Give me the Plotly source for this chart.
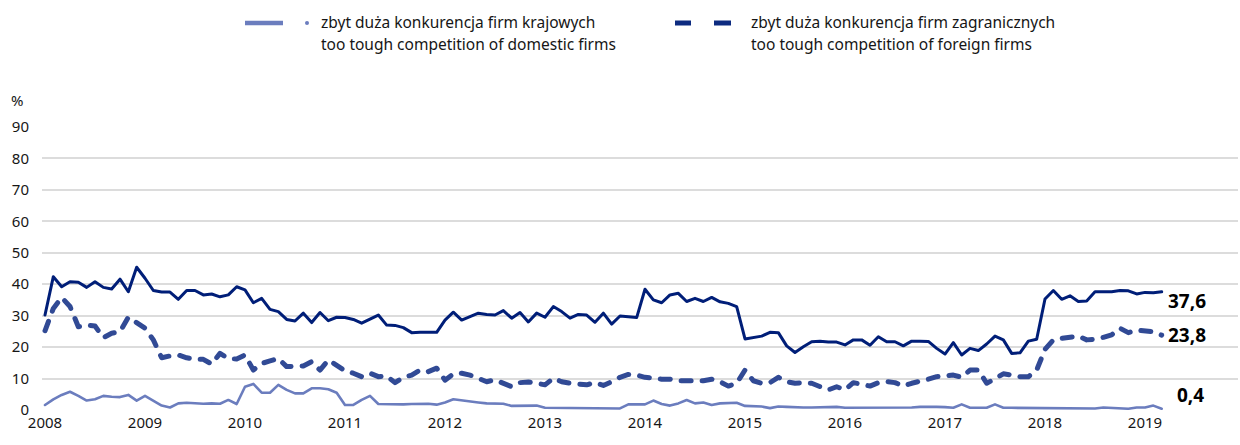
import plotly.graph_objects as go

# Monthly observations, January 2008 - March 2019
start_year = 2008
n_months = 135

# solid navy series
overall = [
    30.2, 42.4, 39.2, 40.8, 40.6, 39.0, 40.8, 39.0, 38.5, 41.6, 37.6, 45.4,
    41.9, 38.0, 37.5, 37.5, 35.2, 38.0, 38.0, 36.6, 36.9, 36.0, 36.6, 39.2,
    38.2, 34.1, 35.5, 32.0, 31.3, 28.8, 28.3, 30.8, 27.8, 31.0, 28.4, 29.5,
    29.4, 28.8, 27.6, 29.0, 30.2, 27.0, 26.9, 26.2, 24.6, 24.7, 24.8, 24.7,
    28.6, 31.1, 28.6, 29.7, 30.8, 30.4, 30.2, 31.6, 29.2, 31.0, 28.0, 30.8,
    29.5, 32.9, 31.3, 29.2, 30.4, 30.2, 27.9, 30.8, 27.3, 29.9, 29.7, 29.4,
    38.4, 35.0, 34.1, 36.6, 37.1, 34.5, 35.5, 34.5, 35.8, 34.4, 33.9, 32.9,
    22.6, 23.0, 23.5, 24.7, 24.6, 20.4, 18.3, 20.1, 21.7, 21.9, 21.6, 21.6,
    20.7, 22.3, 22.3, 20.6, 23.3, 21.7, 21.7, 20.4, 21.9, 21.9, 21.8, 19.6,
    17.8, 21.4, 17.5, 19.6, 18.9, 21.0, 23.5, 22.3, 18.0, 18.2, 21.9, 22.5,
    35.3, 38.0, 35.2, 36.3, 34.5, 34.7, 37.6, 37.6, 37.6, 38.0, 37.9, 36.9,
    37.4, 37.3, 37.6,
]

# too tough competition of foreign firms (dashed)
foreign = [
    25.2, 32.3, 35.8, 32.9, 26.5, 27.0, 26.7, 23.0, 24.4, 24.9, 29.5, 27.8,
    26.0, 22.3, 16.6, 17.2, 17.5, 16.6, 16.1, 16.1, 14.6, 18.0, 16.4, 16.2,
    17.5, 12.7, 14.8, 15.6, 16.4, 13.8, 13.8, 14.0, 15.4, 12.7, 15.9, 14.0,
    12.5, 11.7, 10.6, 11.7, 10.6, 10.8, 8.7, 10.4, 11.1, 12.7, 12.2, 13.3,
    9.5, 11.5, 11.7, 11.1, 10.1, 9.0, 9.6, 8.7, 7.4, 8.7, 8.9, 8.5,
    8.0, 10.1, 9.0, 8.5, 8.3, 8.0, 8.7, 7.8, 9.0, 10.4, 11.3, 11.1,
    10.4, 10.0, 9.8, 9.8, 9.3, 9.3, 9.3, 9.3, 9.8, 9.0, 7.6, 8.5,
    12.7, 9.3, 8.5, 8.7, 10.4, 9.0, 8.5, 8.7, 8.5, 7.6, 6.4, 7.4,
    6.4, 8.7, 8.0, 7.6, 8.7, 9.0, 8.7, 7.6, 8.5, 9.0, 9.8, 10.6,
    11.0, 11.1, 10.4, 12.7, 12.7, 8.5, 9.9, 11.5, 11.1, 10.6, 10.6, 12.7,
    19.3, 22.3, 22.8, 23.1, 23.5, 22.3, 22.5, 23.1, 23.9, 26.0, 24.6, 25.4,
    25.2, 24.9, 23.8,
]

# too tough competition of domestic firms (light)
domestic = [
    1.6, 3.4, 4.8, 5.8, 4.5, 3.0, 3.4, 4.5, 4.2, 4.1, 4.8, 3.0,
    4.5, 3.0, 1.4, 0.8, 2.1, 2.3, 2.1, 2.0, 2.1, 2.0, 3.2, 1.9,
    7.4, 8.3, 5.5, 5.5, 8.0, 6.4, 5.3, 5.3, 6.9, 6.9, 6.6, 5.5,
    1.6, 1.6, 3.2, 4.5, 1.9, 1.8, 1.8, 1.8, 1.9, 2.0, 2.0, 1.7,
    2.4, 3.4, 3.0, 2.7, 2.4, 2.1, 2.0, 2.0, 1.3, 1.3, 1.5, 1.4,
    0.7, 0.7, 0.7, 0.7, 0.7, 0.7, 0.7, 0.7, 0.6, 0.5, 1.8, 1.8,
    1.8, 3.0, 1.9, 1.4, 2.1, 3.2, 2.1, 2.4, 1.6, 2.1, 2.1, 2.3,
    1.3, 1.1, 1.1, 0.6, 1.1, 1.0, 0.8, 0.8, 0.8, 0.8, 1.0, 1.0,
    0.7, 0.7, 0.7, 0.7, 0.7, 0.7, 0.7, 0.8, 0.8, 1.0, 1.1, 1.0,
    0.9, 0.7, 1.8, 0.7, 0.7, 0.7, 1.8, 0.7, 0.7, 0.7, 0.7, 0.7,
    0.7, 0.7, 0.6, 0.5, 0.5, 0.5, 0.5, 0.8, 0.6, 0.4, 0.4, 0.8,
    0.8, 1.4, 0.4,
]

year_ticks = list(range(2008, 2020))
year_labels = [str(y) for y in year_ticks]
y_ticks = [0, 10, 20, 30, 40, 50, 60, 70, 80, 90]

legend_pl = ["zbyt duża konkurencja firm krajowych", "zbyt duża konkurencja firm zagranicznych"]
legend_en = ["too tough competition of domestic firms", "too tough competition of foreign firms"]

x = [start_year + i / 12 for i in range(n_months)]

NAVY = "#001E78"
MID = "#314A95"
LIGHT = "#6B7DBE"
LEGEND_NAVY = "#0D2B80"
TEXT = "#161616"
FONT = "Noto Sans"

fig = go.Figure()
fig.add_trace(go.Scatter(x=x, y=domestic, mode="lines",
                         line=dict(color=LIGHT, width=2.6), showlegend=False))
fig.add_trace(go.Scatter(x=x, y=foreign, mode="lines",
                         line=dict(color=MID, width=5, dash="10px,11px"), showlegend=False))
fig.add_trace(go.Scatter(x=x, y=overall, mode="lines",
                         line=dict(color=NAVY, width=3), showlegend=False))

# end-of-series value labels
last_x = x[-1]
for val, shift_y, shift_x in [(overall[-1], -9, 4), (foreign[-1], 0, 4), (domestic[-1], 14, 13)]:
    fig.add_annotation(x=last_x, y=val, text=f"{val:.1f}".replace(".", ","),
                       showarrow=False, xanchor="left", yanchor="middle",
                       xshift=shift_x, yshift=shift_y,
                       font=dict(family=FONT, size=19, color="#000000", weight="bold"))

# hand-built legend above the plot
PLOT_L, PLOT_W, PLOT_B, PLOT_H = 42, 1196, 410, 283


def px_x(p):
    return (p - PLOT_L) / PLOT_W


def px_y(p):
    return (PLOT_B - p) / PLOT_H


ly = px_y(23)
fig.add_shape(type="line", xref="paper", yref="paper", x0=px_x(245), x1=px_x(283), y0=ly, y1=ly,
              line=dict(color=LIGHT, width=4.5))
fig.add_shape(type="circle", xref="paper", yref="paper",
              x0=px_x(305), x1=px_x(309), y0=px_y(25), y1=px_y(21),
              line=dict(color=LIGHT, width=0), fillcolor=LIGHT)
for a, b in [(675, 691), (714, 731)]:
    fig.add_shape(type="line", xref="paper", yref="paper", x0=px_x(a), x1=px_x(b), y0=ly, y1=ly,
                  line=dict(color=LEGEND_NAVY, width=5))

for tx, (pl, en) in zip([319, 749], zip(legend_pl, legend_en)):
    for txt, ty in [(pl, 22), (en, 44)]:
        fig.add_annotation(xref="paper", yref="paper", x=px_x(tx), y=px_y(ty), text=txt,
                           showarrow=False, xanchor="left", yanchor="middle",
                           font=dict(family=FONT, size=15.5, color=TEXT))

# unit label above the y axis
fig.add_annotation(xref="paper", yref="paper", x=px_x(9), y=px_y(100), text="%",
                   showarrow=False, xanchor="left", yanchor="middle",
                   font=dict(family=FONT, size=15, color=TEXT))

fig.update_layout(
    width=1240, height=445,
    margin=dict(l=PLOT_L, r=2, t=127, b=35),
    paper_bgcolor="white", plot_bgcolor="white",
    font=dict(family=FONT, size=15, color=TEXT),
)
fig.update_xaxes(range=[start_year - 0.03, start_year + 11.93], tickmode="array",
                 tickvals=year_ticks, ticktext=year_labels, showgrid=False,
                 zeroline=False, showline=False, ticks="", ticklabelstandoff=2)
fig.update_yaxes(range=[0, 90], tickmode="array", tickvals=y_ticks,
                 gridcolor="#DCDCDC", gridwidth=2, zeroline=False, showline=False,
                 ticks="", ticklabelstandoff=12)

round_caps = """
document.querySelectorAll('.scatterlayer .trace path.js-line').forEach(function(p){
  p.style.strokeLinecap = 'round';
  p.style.strokeLinejoin = 'round';
});
"""
fig.write_html("out.html", post_script=round_caps)
